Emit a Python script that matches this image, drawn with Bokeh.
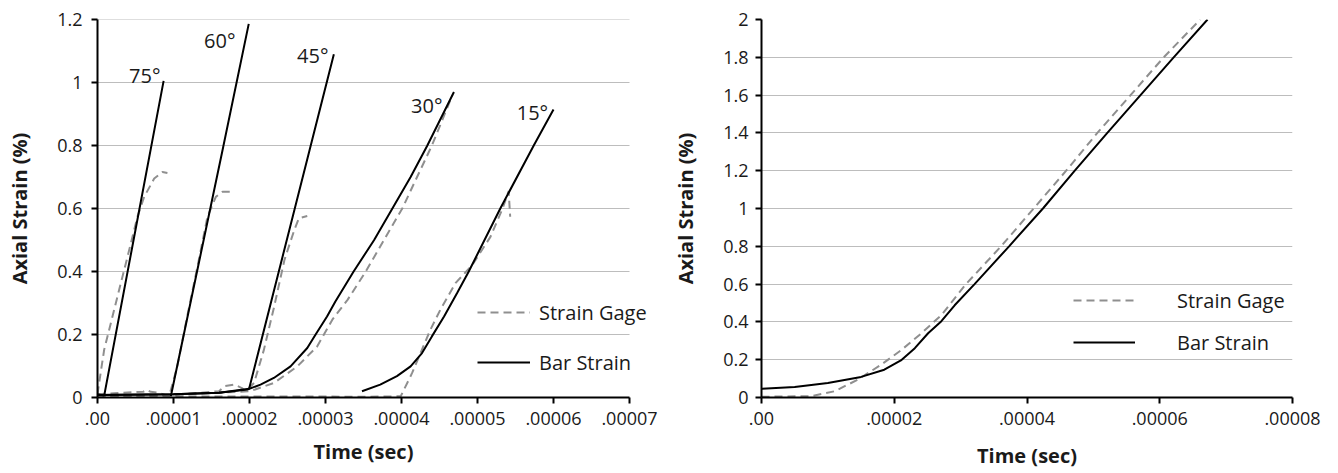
from bokeh.plotting import figure
from bokeh.layouts import row
from bokeh.models import Legend, LegendItem, FixedTicker, Range1d, Title
from bokeh.core.properties import value
from bokeh.embed import file_html
from bokeh.resources import INLINE

FONT = "Open Sans"

# ---------------- Left chart data (time in s, strain in %) ----------------
left_x_ticks = [0, 1e-5, 2e-5, 3e-5, 4e-5, 5e-5, 6e-5, 7e-5]
left_x_labels = [".00", ".00001", ".00002", ".00003", ".00004", ".00005", ".00006", ".00007"]
left_y_ticks = [0, 0.2, 0.4, 0.6, 0.8, 1.0, 1.2]
left_y_labels = ["0", "0.2", "0.4", "0.6", "0.8", "1", "1.2"]

bar75_t = [0, 0.088e-5, 0.87e-5]
bar75_s = [0.01, 0.006, 1.005]
bar60_t = [0.965e-5, 1.645e-5, 1.99e-5]
bar60_s = [0.004, 0.785, 1.186]
bar45_t = [0, 1.0e-5, 1.6e-5, 1.995e-5, 2.79e-5, 3.11e-5]
bar45_s = [0.008, 0.01, 0.015, 0.028, 0.785, 1.09]
bar30_t = [0, 1.0e-5, 1.6e-5, 1.97e-5, 2.145e-5, 2.32e-5, 2.54e-5, 2.76e-5, 2.87e-5,
           3.02e-5, 3.13e-5, 3.37e-5, 3.64e-5, 3.88e-5, 4.12e-5, 4.34e-5, 4.69e-5]
bar30_s = [0.008, 0.01, 0.015, 0.025, 0.041, 0.062, 0.099, 0.157, 0.2,
           0.257, 0.305, 0.4, 0.5, 0.6, 0.7, 0.8, 0.97]
bar15_t = [3.48e-5, 3.72e-5, 3.94e-5, 4.12e-5, 4.27e-5, 4.40e-5, 4.56e-5, 4.73e-5,
           4.885e-5, 5.30e-5, 5.74e-5, 6.0e-5]
bar15_s = [0.02, 0.041, 0.068, 0.099, 0.141, 0.194, 0.257, 0.331,
           0.4, 0.6, 0.8, 0.914]

gage75_t = [0, 0.03e-5, 0.088e-5, 0.197e-5, 0.307e-5, 0.417e-5, 0.526e-5, 0.614e-5,
            0.746e-5, 0.855e-5, 0.92e-5]
gage75_s = [0.01, 0.06, 0.152, 0.257, 0.363, 0.468, 0.574, 0.637,
            0.695, 0.716, 0.713]
gage60_t = [0, 0.3e-5, 0.6e-5, 0.65e-5, 0.7e-5, 0.8e-5, 0.943e-5, 1.05e-5, 1.18e-5,
            1.316e-5, 1.447e-5, 1.557e-5, 1.645e-5, 1.754e-5]
gage60_s = [0.01, 0.015, 0.018, 0.024, 0.018, 0.015, 0.004, 0.099, 0.257,
            0.416, 0.574, 0.637, 0.653, 0.653]
gage45_t = [0, 1.0e-5, 1.6e-5, 1.67e-5, 1.8e-5, 1.9e-5, 1.95e-5, 2.06e-5, 2.19e-5,
            2.325e-5, 2.46e-5, 2.59e-5, 2.65e-5, 2.76e-5]
gage45_s = [0.005, 0.008, 0.02, 0.036, 0.041, 0.03, 0.02, 0.046, 0.152,
            0.289, 0.437, 0.532, 0.569, 0.576]
gage30_t = [0, 1.0e-5, 2.01e-5, 2.32e-5, 2.63e-5, 2.89e-5, 3.09e-5, 3.29e-5, 3.53e-5,
            4.01e-5, 4.40e-5, 4.67e-5]
gage30_s = [0.005, 0.008, 0.02, 0.046, 0.099, 0.162, 0.247, 0.31, 0.4,
            0.6, 0.8, 0.96]
gage15_t = [0, 1e-5, 2e-5, 3e-5, 3.5e-5, 3.99e-5, 4.14e-5, 4.25e-5, 4.38e-5, 4.51e-5,
            4.71e-5, 4.93e-5, 5.17e-5, 5.33e-5, 5.41e-5, 5.43e-5]
gage15_s = [0.003, 0.003, 0.003, 0.003, 0.002, 0.004, 0.078, 0.141, 0.215, 0.278,
            0.363, 0.42, 0.51, 0.6, 0.655, 0.574]

angle_labels = ["75°", "60°", "45°", "30°", "15°"]
angle_label_t = [0.829e-5, 1.816e-5, 3.04e-5, 4.54e-5, 5.93e-5]
angle_label_s = [1.022, 1.133, 1.085, 0.927, 0.905]

# ---------------- Right chart data ----------------
right_x_ticks = [0, 2e-5, 4e-5, 6e-5, 8e-5]
right_x_labels = [".00", ".00002", ".00004", ".00006", ".00008"]
right_y_ticks = [0, 0.2, 0.4, 0.6, 0.8, 1.0, 1.2, 1.4, 1.6, 1.8, 2.0]
right_y_labels = ["0", "0.2", "0.4", "0.6", "0.8", "1", "1.2", "1.4", "1.6", "1.8", "2"]

rbar_t = [0, 0.5e-5, 1.0e-5, 1.5e-5, 1.85e-5, 2.1e-5, 2.31e-5, 2.51e-5, 2.71e-5,
          2.91e-5, 3.21e-5, 3.73e-5, 4.24e-5, 4.72e-5, 5.21e-5, 5.71e-5, 6.21e-5, 6.72e-5]
rbar_s = [0.046, 0.056, 0.077, 0.109, 0.147, 0.196, 0.261, 0.34, 0.404,
          0.488, 0.6, 0.8, 1.0, 1.2, 1.4, 1.6, 1.8, 2.0]
rgage_t = [0, 0.75e-5, 1.10e-5, 1.45e-5, 1.80e-5, 2.11e-5, 2.41e-5, 2.71e-5, 3.08e-5,
           3.61e-5, 4.10e-5, 4.59e-5, 5.06e-5, 5.56e-5, 6.06e-5, 6.61e-5]
rgage_s = [0.004, 0.007, 0.033, 0.094, 0.173, 0.252, 0.34, 0.436, 0.6,
           0.8, 1.0, 1.2, 1.4, 1.6, 1.8, 2.0]

BAR_COLOR = "black"
GAGE_COLOR = "#8f8f8f"
GAGE_DASH = "8 5"
TEXT_COLOR = "#1a1a1a"
GRID_COLOR = "#bdbdbd"


def make_fig(xr, yr, xt, xl, yt, yl, border_left, border_right, border_top, lab_standoff,
             own_grid=False):
    p = figure(width=669, height=473, x_range=Range1d(*xr), y_range=Range1d(*yr),
               output_backend="svg", toolbar_location=None,
               min_border_left=border_left, min_border_right=border_right,
               min_border_top=border_top, min_border_bottom=75)
    p.outline_line_color = None
    p.background_fill_color = "white"
    p.border_fill_color = "white"
    p.xgrid.visible = False
    if own_grid:
        # horizontal gridlines limited to the labelled time span
        p.ygrid.visible = False
        p.segment(x0=xt[0], x1=xt[-1], y0=yt[1:], y1=yt[1:], line_color=GRID_COLOR,
                  line_width=1, level="underlay")
        p.xaxis.bounds = (xt[0], xt[-1])
    else:
        p.ygrid.grid_line_color = GRID_COLOR
        p.ygrid.grid_line_width = 1
    p.xaxis.ticker = FixedTicker(ticks=xt)
    p.yaxis.ticker = FixedTicker(ticks=yt)
    p.xaxis.major_label_overrides = {t: l for t, l in zip(xt, xl)}
    p.yaxis.major_label_overrides = {t: l for t, l in zip(yt, yl)}
    for ax in (p.xaxis, p.yaxis):
        ax.axis_line_width = 2
        ax.axis_line_color = "black"
        ax.major_tick_line_width = 2
        ax.major_tick_line_color = "black"
        ax.major_tick_out = 6
        ax.major_tick_in = 0
        ax.minor_tick_line_color = None
        ax.major_label_text_font = FONT
        ax.major_label_text_font_size = "18px"
        ax.major_label_text_color = TEXT_COLOR
        ax.axis_label_text_font = FONT
        ax.axis_label_text_font_style = "bold"
        ax.axis_label_text_font_size = "20px"
        ax.axis_label_text_color = TEXT_COLOR
    p.yaxis.axis_label = "Axial Strain (%)"
    p.xaxis.major_label_standoff = 8
    p.yaxis.major_label_standoff = lab_standoff
    p.xaxis.axis_label_standoff = 14
    p.yaxis.axis_label_standoff = 21
    return p


# ---------------- Left figure ----------------
# frame widened past the last tick (to 658 px) so the legend text is not clipped
FRAME_L, FRAME_TICK_END, FRAME_R = 97, 629, 658
left_x_end = left_x_ticks[-1] * (FRAME_R - FRAME_L) / (FRAME_TICK_END - FRAME_L)
p1 = make_fig((0, left_x_end), (0, 1.2), left_x_ticks, left_x_labels,
              left_y_ticks, left_y_labels, FRAME_L, 669 - FRAME_R, 19, 9, own_grid=True)
# x title centred on the labelled span (0 .. .00007), not on the widened frame
p1.add_layout(Title(text="Time (sec)", align="left", offset=216,
                    text_font=FONT, text_font_style="bold", text_font_size="20px",
                    text_color=TEXT_COLOR, standoff=17), "below")

gage_r = None
bar_r = None
for t, s in [(gage75_t, gage75_s), (gage60_t, gage60_s), (gage45_t, gage45_s),
             (gage30_t, gage30_s), (gage15_t, gage15_s)]:
    r = p1.line(t, s, line_color=GAGE_COLOR, line_width=2, line_dash=GAGE_DASH)
    gage_r = gage_r or r
for t, s in [(bar75_t, bar75_s), (bar60_t, bar60_s), (bar45_t, bar45_s),
             (bar30_t, bar30_s), (bar15_t, bar15_s)]:
    r = p1.line(t, s, line_color=BAR_COLOR, line_width=2)
    bar_r = bar_r or r

p1.text(x=angle_label_t, y=angle_label_s, text=angle_labels, text_align="right",
        text_baseline="alphabetic", text_font=value(FONT), text_font_size="20px",
        text_color=TEXT_COLOR)

leg1 = Legend(items=[LegendItem(label="Strain Gage", renderers=[gage_r]),
                     LegendItem(label="Bar Strain", renderers=[bar_r])],
              location=(380, 21), glyph_width=53, glyph_height=28, label_height=28,
              label_standoff=9, spacing=22, padding=0, margin=0,
              border_line_alpha=0, background_fill_alpha=0,
              label_text_font=FONT, label_text_font_size="20px",
              label_text_color=TEXT_COLOR)
p1.add_layout(leg1)

# ---------------- Right figure ----------------
p2 = make_fig((0, 8e-5), (0, 2.0), right_x_ticks, right_x_labels,
              right_y_ticks, right_y_labels, 91, 46, 17, 7)
p2.xaxis.axis_label = "Time (sec)"
g2 = p2.line(rgage_t, rgage_s, line_color=GAGE_COLOR, line_width=2, line_dash=GAGE_DASH)
b2 = p2.line(rbar_t, rbar_s, line_color=BAR_COLOR, line_width=2)
leg2 = Legend(items=[LegendItem(label="Strain Gage", renderers=[g2]),
                     LegendItem(label="Bar Strain", renderers=[b2])],
              location=(312, 41), glyph_width=62, glyph_height=28, label_height=28,
              label_standoff=42, spacing=14, padding=0, margin=0,
              border_line_alpha=0, background_fill_alpha=0,
              label_text_font=FONT, label_text_font_size="20px",
              label_text_color=TEXT_COLOR)
p2.add_layout(leg2)

layout = row(p1, p2, spacing=0)
open("out.html", "w").write(file_html(layout, INLINE))
